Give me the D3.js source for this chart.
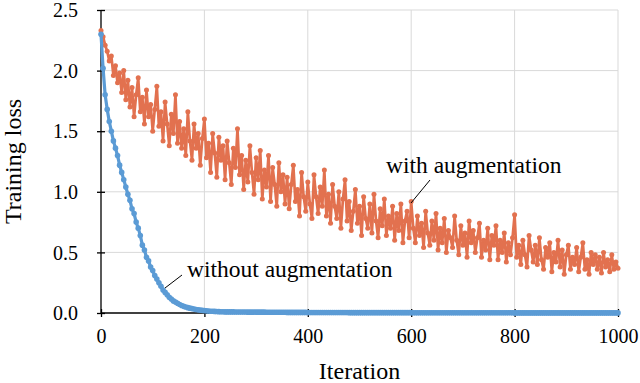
<!DOCTYPE html>
<html>

<head>
    <meta charset="utf-8">
    <title>Training loss</title>
    <script type="text/javascript" src="https://cdnjs.cloudflare.com/ajax/libs/d3/7.8.5/d3.min.js"></script>
    <style>
        body { margin: 0; background: #fff; }
        text { font-family: "Liberation Serif", "Times New Roman", serif; fill: #000; }
    </style>
</head>

<body>

    <script type="text/javascript">
        // one value every 4 iterations, from 0 to 1000
        let iterStep = 4;

        let withAug = [
            2.33, 2.28, 2.21, 2.16, 2.08, 2.12, 1.96, 2.04, 1.90, 1.98,
            1.82, 2.00, 1.76, 1.92, 1.70, 1.86, 1.62, 1.80, 1.94, 1.66,
            1.78, 1.56, 1.84, 1.62, 1.72, 1.50, 1.68, 1.87, 1.54, 1.66,
            1.42, 1.74, 1.56, 1.38, 1.64, 1.48, 1.80, 1.40, 1.58, 1.36,
            1.52, 1.30, 1.66, 1.42, 1.26, 1.56, 1.36, 1.48, 1.22, 1.44,
            1.60, 1.28, 1.40, 1.16, 1.48, 1.32, 1.12, 1.45, 1.26, 1.38,
            1.10, 1.42, 1.24, 1.06, 1.36, 1.20, 1.52, 1.14, 1.30, 1.02,
            1.26, 1.08, 1.38, 1.16, 0.98, 1.28, 1.10, 1.34, 0.94, 1.18,
            1.04, 1.30, 0.92, 1.20, 1.06, 0.88, 1.24, 1.00, 1.14, 0.90,
            1.12, 0.86, 1.06, 1.22, 0.92, 1.02, 0.80, 1.16, 0.96, 0.84,
            1.08, 0.90, 0.78, 1.14, 0.96, 0.82, 1.04, 0.88, 1.18, 0.80,
            0.98, 0.74, 1.06, 0.88, 0.78, 1.00, 0.70, 0.94, 1.10, 0.76,
            0.92, 0.68, 0.84, 1.02, 0.74, 0.88, 0.64, 0.96, 0.78, 0.70,
            0.90, 0.66, 0.98, 0.76, 0.62, 0.86, 0.72, 0.94, 0.64, 0.80,
            0.70, 0.88, 0.60, 0.82, 0.68, 0.90, 0.58, 0.76, 0.84, 0.62,
            0.92, 0.70, 0.58, 0.80, 0.64, 0.74, 0.54, 0.84, 0.66, 0.56,
            0.76, 0.60, 0.82, 0.52, 0.70, 0.58, 0.78, 0.50, 0.68, 0.62,
            0.54, 0.80, 0.60, 0.48, 0.72, 0.56, 0.66, 0.46, 0.76, 0.58,
            0.68, 0.50, 0.62, 0.74, 0.46, 0.60, 0.52, 0.70, 0.44, 0.64,
            0.56, 0.72, 0.44, 0.60, 0.50, 0.66, 0.42, 0.58, 0.48, 0.62,
            0.81, 0.46, 0.56, 0.40, 0.60, 0.48, 0.38, 0.64, 0.52, 0.42,
            0.56, 0.40, 0.62, 0.44, 0.36, 0.54, 0.46, 0.58, 0.34, 0.50,
            0.42, 0.60, 0.38, 0.52, 0.32, 0.48, 0.56, 0.36, 0.46, 0.40,
            0.54, 0.34, 0.46, 0.58, 0.36, 0.44, 0.32, 0.50, 0.40, 0.48,
            0.36, 0.46, 0.33, 0.50, 0.38, 0.44, 0.34, 0.48, 0.36, 0.42,
            0.37
        ];

        let withoutAug = [
            2.30, 2.02, 1.80, 1.68, 1.58, 1.50, 1.42, 1.36, 1.30, 1.22,
            1.16, 1.10, 1.04, 0.98, 0.93, 0.86, 0.82, 0.75, 0.70, 0.64,
            0.56, 0.52, 0.46, 0.43, 0.38, 0.35, 0.31, 0.28, 0.25, 0.22,
            0.19, 0.17, 0.15, 0.13, 0.115, 0.10, 0.09, 0.08, 0.07, 0.062,
            0.055, 0.050, 0.044, 0.040, 0.036, 0.032, 0.029, 0.026, 0.024, 0.022,
            0.020, 0.018, 0.017, 0.015, 0.014, 0.013, 0.012, 0.011, 0.010, 0.010,
            0.009, 0.009, 0.009, 0.009, 0.009, 0.008, 0.008, 0.008, 0.008, 0.008,
            0.008, 0.007, 0.007, 0.007, 0.007, 0.007, 0.007, 0.007, 0.007, 0.007,
            0.006, 0.006, 0.006, 0.006, 0.006, 0.006, 0.006, 0.006, 0.006, 0.006,
            0.005, 0.005, 0.005, 0.005, 0.005, 0.005, 0.005, 0.005, 0.005, 0.005,
            0.004, 0.004, 0.004, 0.004, 0.004, 0.004, 0.004, 0.004, 0.004, 0.004,
            0.004, 0.004, 0.004, 0.004, 0.004, 0.004, 0.004, 0.004, 0.004, 0.004,
            0.003, 0.003, 0.003, 0.003, 0.003, 0.003, 0.003, 0.003, 0.003, 0.003,
            0.003, 0.003, 0.003, 0.003, 0.003, 0.003, 0.003, 0.003, 0.003, 0.003,
            0.003, 0.003, 0.003, 0.003, 0.003, 0.003, 0.003, 0.003, 0.003, 0.003,
            0.002, 0.002, 0.002, 0.002, 0.002, 0.002, 0.002, 0.002, 0.002, 0.002,
            0.002, 0.002, 0.002, 0.002, 0.002, 0.002, 0.002, 0.002, 0.002, 0.002,
            0.002, 0.002, 0.002, 0.002, 0.002, 0.002, 0.002, 0.002, 0.002, 0.002,
            0.002, 0.002, 0.002, 0.002, 0.002, 0.002, 0.002, 0.002, 0.002, 0.002,
            0.002, 0.002, 0.002, 0.002, 0.002, 0.002, 0.002, 0.002, 0.002, 0.002,
            0.001, 0.001, 0.001, 0.001, 0.001, 0.001, 0.001, 0.001, 0.001, 0.001,
            0.001, 0.001, 0.001, 0.001, 0.001, 0.001, 0.001, 0.001, 0.001, 0.001,
            0.001, 0.001, 0.001, 0.001, 0.001, 0.001, 0.001, 0.001, 0.001, 0.001,
            0.001, 0.001, 0.001, 0.001, 0.001, 0.001, 0.001, 0.001, 0.001, 0.001,
            0.001, 0.001, 0.001, 0.001, 0.001, 0.001, 0.001, 0.001, 0.001, 0.001,
            0.001
        ];

        let xTicks = [0, 200, 400, 600, 800, 1000];
        let yTicks = [0.0, 0.5, 1.0, 1.5, 2.0, 2.5];
        let xTitle = "Iteration";
        let yTitle = "Training loss";
        let labelWith = "with augmentation";
        let labelWithout = "without augmentation";

        let _width = 640, _height = 383,
            _margins = { left: 101, top: 10, right: 22, bottom: 70 };

        let svg = d3.select("body").append("svg")
            .attr("width", _width)
            .attr("height", _height);

        let x = d3.scaleLinear().domain([0, 1000]).range([_margins.left, _width - _margins.right]);
        let y = d3.scaleLinear().domain([0, 2.5]).range([_height - _margins.bottom, _margins.top]);

        let toPoints = function (series) {
            return series.map(function (v, i) { return { x: i * iterStep, y: v }; });
        }

        // grid lines
        let grid = svg.append("g").attr("class", "grid");
        grid.selectAll("line.vgrid")
            .data(xTicks.filter(function (d) { return d > 0; }))
            .enter().append("line")
            .attr("x1", function (d) { return x(d); })
            .attr("x2", function (d) { return x(d); })
            .attr("y1", y(0))
            .attr("y2", y(2.5))
            .style("stroke", "#d9d9d9")
            .style("stroke-width", 1);
        grid.selectAll("line.hgrid")
            .data(yTicks.filter(function (d) { return d > 0; }))
            .enter().append("line")
            .attr("x1", x(0))
            .attr("x2", x(1000))
            .attr("y1", function (d) { return y(d); })
            .attr("y2", function (d) { return y(d); })
            .style("stroke", "#d9d9d9")
            .style("stroke-width", 1);

        // axes (ticks cross the axis line)
        let xAxis = d3.axisBottom(x).tickValues(xTicks).tickSize(4).tickFormat(d3.format("d"));
        let xg = svg.append("g")
            .attr("transform", "translate(0," + y(0) + ")")
            .call(xAxis);
        xg.selectAll(".tick line").attr("y1", -4).style("stroke", "#000").style("stroke-width", 1.3);
        xg.select(".domain").remove();
        xg.selectAll(".tick text")
            .attr("y", 30)
            .attr("dy", 0)
            .style("font-size", "20px");

        let yAxis = d3.axisLeft(y).tickValues(yTicks).tickSize(4).tickFormat(d3.format(".1f"));
        let yg = svg.append("g")
            .attr("transform", "translate(" + x(0) + ",0)")
            .call(yAxis);
        yg.selectAll(".tick line").attr("x1", 4).style("stroke", "#000").style("stroke-width", 1.3);
        yg.select(".domain").remove();
        yg.selectAll(".tick text")
            .attr("x", -23)
            .attr("dy", "0.33em")
            .style("font-size", "20px");

        svg.append("line")
            .attr("x1", x(0)).attr("x2", x(1000))
            .attr("y1", y(0)).attr("y2", y(0))
            .style("stroke", "#000").style("stroke-width", 1.3);
        svg.append("line")
            .attr("x1", x(0)).attr("x2", x(0))
            .attr("y1", y(0)).attr("y2", y(2.5))
            .style("stroke", "#000").style("stroke-width", 1.3);

        // series
        let line = d3.line()
            .x(function (d) { return x(d.x); })
            .y(function (d) { return y(d.y); });

        let series = [
            { name: "with", values: toPoints(withAug), color: "#e2714f", r: 2.5, w: 2.7 },
            { name: "without", values: toPoints(withoutAug), color: "#5b9bd5", r: 2.8, w: 3.2 }
        ];

        let body = svg.append("g").attr("class", "body");
        series.forEach(function (s) {
            let g = body.append("g");
            g.append("path")
                .datum(s.values)
                .attr("d", line)
                .style("fill", "none")
                .style("stroke", s.color)
                .style("stroke-width", s.w)
                .style("stroke-linejoin", "round");
            g.selectAll("circle")
                .data(s.values)
                .enter().append("circle")
                .attr("cx", function (d) { return x(d.x); })
                .attr("cy", function (d) { return y(d.y); })
                .attr("r", s.r)
                .style("fill", s.color);
        });

        // annotations
        svg.append("line")
            .attr("x1", 411).attr("y1", 203).attr("x2", 430).attr("y2", 180)
            .style("stroke", "#000").style("stroke-width", 1);
        svg.append("text")
            .attr("x", 386).attr("y", 173)
            .style("font-size", "23.5px")
            .text(labelWith);

        svg.append("line")
            .attr("x1", 165).attr("y1", 288).attr("x2", 182).attr("y2", 275)
            .style("stroke", "#000").style("stroke-width", 1);
        svg.append("text")
            .attr("x", 187).attr("y", 277)
            .style("font-size", "23.5px")
            .text(labelWithout);

        // axis titles
        svg.append("text")
            .attr("x", (x(0) + x(1000)) / 2)
            .attr("y", 379)
            .attr("text-anchor", "middle")
            .style("font-size", "24px")
            .text(xTitle);
        svg.append("text")
            .attr("transform", "translate(21," + (y(0) + y(2.5)) / 2 + ") rotate(-90)")
            .attr("text-anchor", "middle")
            .style("font-size", "24px")
            .text(yTitle);
    </script>

</body>

</html>
